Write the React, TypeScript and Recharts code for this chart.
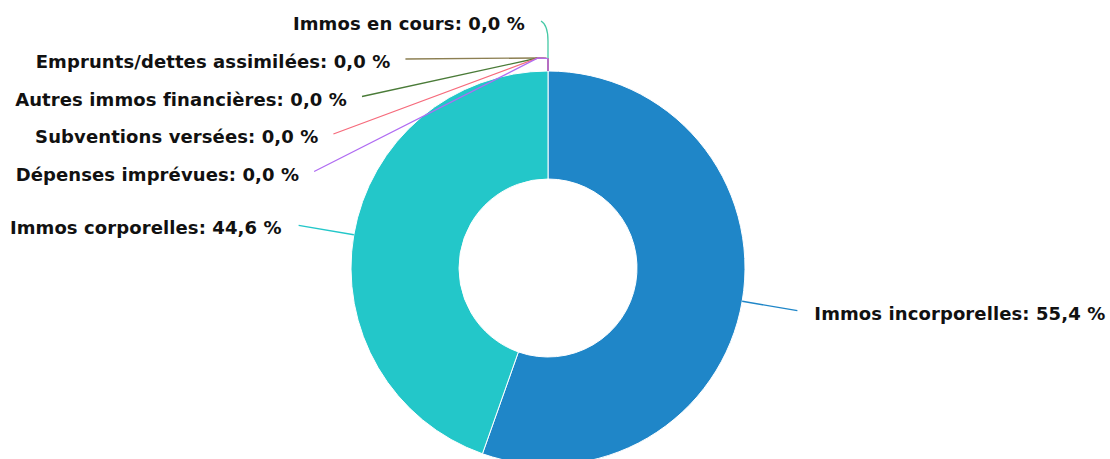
import React from 'react';
import { PieChart, Pie, Cell } from 'recharts';

const categories = [
  'Immos incorporelles',
  'Immos corporelles',
  'Immos en cours',
  'Emprunts/dettes assimilées',
  'Autres immos financières',
  'Subventions versées',
  'Dépenses imprévues',
];
const shares = [55.4, 44.6, 0, 0, 0, 0, 0];
const colors = ['#1f86c8', '#23c7c9', '#45c9a6', '#8c7f52', '#4a7b38', '#f66b7c', '#b06cf2'];

const data = categories.map((name, i) => ({ name, value: shares[i] }));

const RADIAN = Math.PI / 180;
const LABEL_GAP = 56;

const fmt = (v: number) => v.toFixed(1).replace('.', ',') + ' %';

// rang des parts nulles, la dernière en haut
const zeroRank = (index: number) =>
  shares.slice(0, index + 1).filter((v) => v === 0).length - 1;

const renderLabel = (props: any) => {
  const { cx, cy, midAngle, outerRadius, index } = props;
  const labelR = outerRadius + LABEL_GAP;
  const color = colors[index];
  const text = `${categories[index]}: ${fmt(shares[index])}`;
  const textStyle = {
    fontFamily: '"DejaVu Sans", Verdana, sans-serif',
    fontWeight: 'bold' as const,
    fontSize: 18,
    letterSpacing: 0.1,
    fill: '#111',
  };

  if (shares[index] > 0) {
    const cos = Math.cos(-midAngle * RADIAN);
    const sin = Math.sin(-midAngle * RADIAN);
    const sx = cx + outerRadius * cos;
    const sy = cy + outerRadius * sin;
    const ex = cx + labelR * cos;
    const ey = cy + labelR * sin;
    const right = cos >= 0;
    return (
      <g key={`l-${index}`}>
        <path d={`M${sx},${sy}L${ex},${ey}`} stroke={color} strokeWidth={1.3} fill="none" />
        <text
          x={right ? ex + 17 : ex - 17}
          y={ey + 9}
          textAnchor={right ? 'start' : 'end'}
          style={textStyle}
        >
          {text}
        </text>
      </g>
    );
  }

  // parts nulles : empilées sur la gauche au-dessus du sommet
  const rank = zeroRank(index);
  const topY = cy - outerRadius;
  const meetY = topY - 12;
  if (rank === 0) {
    const ex = cx - 7;
    const ey = cy - labelR + 6;
    return (
      <g key={`l-${index}`}>
        <path
          d={`M${ex},${ey}Q${cx},${ey + 4} ${cx},${ey + 20}L${cx},${topY}`}
          stroke={color}
          strokeWidth={1.3}
          fill="none"
        />
        <text x={ex - 16} y={ey + 9} textAnchor="end" style={textStyle}>
          {text}
        </text>
      </g>
    );
  }
  const dy = -labelR + 44 + 37.5 * (rank - 1);
  const ey = cy + dy;
  const ex = cx - Math.sqrt(labelR * labelR - dy * dy);
  return (
    <g key={`l-${index}`}>
      <path
        d={`M${ex},${ey}L${cx - 10},${meetY - 1}Q${cx},${meetY - 1} ${cx},${meetY}L${cx},${topY}`}
        stroke={color}
        strokeWidth={1.3}
        fill="none"
      />
      <text x={ex - 15} y={ey + 9} textAnchor="end" style={textStyle}>
        {text}
      </text>
    </g>
  );
};

export default function App() {
  return (
    <div style={{ position: 'fixed', left: 0, top: 0, width: 1110, height: 459, background: '#fff' }}>
      <PieChart width={1110} height={459} margin={{ top: 0, right: 0, bottom: 0, left: 0 }}>
        <Pie
          data={data}
          dataKey="value"
          nameKey="name"
          cx={548}
          cy={268}
          innerRadius={89}
          outerRadius={197}
          startAngle={90}
          endAngle={-270}
          stroke="#fff"
          strokeWidth={1}
          label={renderLabel}
          labelLine={false}
          isAnimationActive={false}
        >
          {data.map((d, i) => (
            <Cell key={d.name} fill={colors[i]} />
          ))}
        </Pie>
      </PieChart>
    </div>
  );
}
